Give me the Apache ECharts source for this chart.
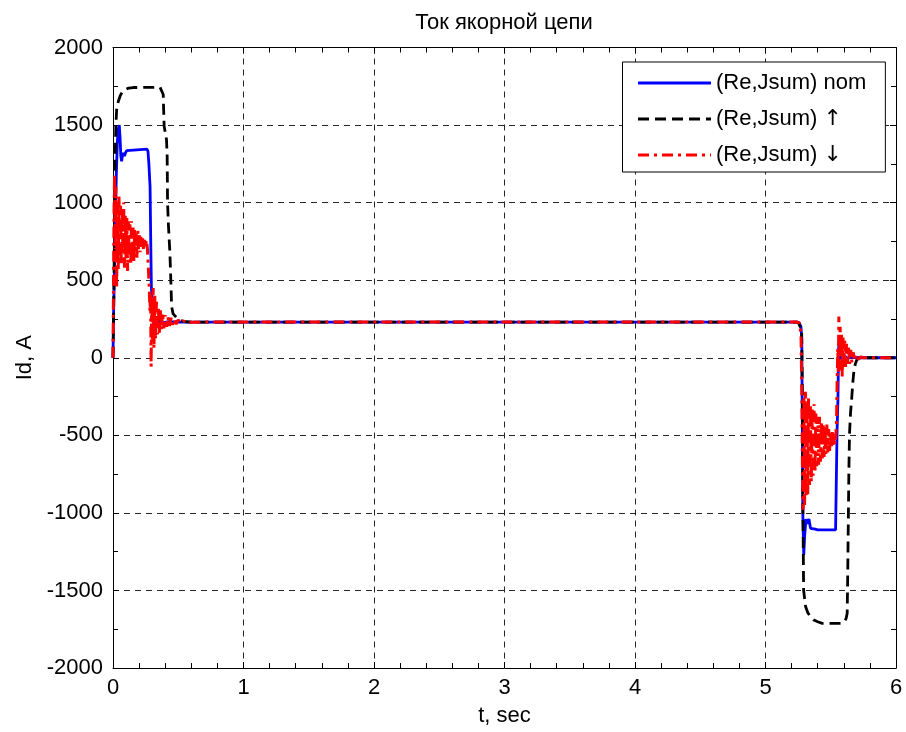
<!DOCTYPE html>
<html>
<head>
<meta charset="utf-8">
<script src="https://cdn.jsdelivr.net/npm/echarts@6/dist/echarts.min.js"></script>
<style>
html,body{margin:0;padding:0;background:#fff;}
#chart{width:906px;height:732px;}
</style>
</head>
<body>
<div id="chart"></div>
<script>
// ---- data ----
const seriesNames = ['(Re,Jsum) nom', '(Re,Jsum) \u2191', '(Re,Jsum) \u2193'];

const nomT = [0, 0.004, 0.01, 0.018, 0.026, 0.034, 0.042, 0.048, 0.054, 0.06, 0.066, 0.072, 0.08, 0.088, 0.095, 0.105, 0.115, 0.26, 0.268, 0.275, 0.281, 0.284, 0.287, 0.29, 0.294, 0.298, 0.303, 0.31, 0.318, 0.328, 0.34, 0.355, 0.38, 0.42, 0.5,
  5.24, 5.258, 5.272, 5.278, 5.282, 5.286, 5.29, 5.293, 5.3, 5.31, 5.32, 5.333, 5.345, 5.36, 5.38, 5.4, 5.537, 5.542, 5.548, 5.555, 5.56, 5.566, 5.572, 5.578, 5.585, 5.595, 5.61, 5.63, 5.66, 5.7, 6];
const nomI = [0, 270, 500, 900, 1200, 1400, 1480, 1500, 1420, 1300, 1266, 1300, 1320, 1300, 1320, 1335, 1340, 1345, 1330, 1250, 1150, 1105, 900, 700, 460, 380, 300, 250, 200, 260, 210, 245, 225, 232, 230,
  230, 225, 200, 120, -400, -1000, -1150, -1271, -1150, -1040, -1070, -1040, -1100, -1090, -1105, -1110, -1110, -830, -486, -271, 52, 127, -13, 60, 20, -20, 10, -5, 5, 0, 0];

const upT = [0, 0.005, 0.01, 0.015, 0.022, 0.028, 0.04, 0.054, 0.07, 0.09, 0.12, 0.155, 0.36, 0.375, 0.385, 0.388, 0.392, 0.41, 0.415, 0.418, 0.425, 0.436, 0.445, 0.449, 0.46, 0.487, 0.52, 0.56, 0.6,
  5.25, 5.265, 5.277, 5.282, 5.287, 5.292, 5.307, 5.325, 5.345, 5.37, 5.4, 5.435, 5.588, 5.605, 5.618, 5.626, 5.63, 5.633, 5.639, 5.644, 5.652, 5.66, 5.668, 5.677, 5.688, 5.7, 5.72, 6];
const upI = [0, 300, 700, 1200, 1500, 1600, 1650, 1686, 1712, 1728, 1738, 1742, 1744, 1735, 1697, 1600, 1492, 1406, 1300, 1000, 850, 677, 450, 331, 285, 258, 240, 232, 230,
  230, 225, 180, -200, -1000, -1497, -1604, -1645, -1669, -1690, -1702, -1712, -1712, -1700, -1680, -1647, -1400, -1174, -723, -486, -350, -271, -170, -88, -40, -13, 0, 0];

const downT = [0, 0.004, 0.008, 0.012, 0.017, 0.022, 0.028, 0.034, 0.04, 0.046, 0.052, 0.058, 0.064, 0.07, 0.076, 0.082, 0.088, 0.094, 0.1, 0.106, 0.112, 0.118, 0.124, 0.13, 0.136, 0.142, 0.148, 0.154, 0.16, 0.166, 0.172, 0.178, 0.184, 0.19, 0.196, 0.202, 0.208, 0.214, 0.22, 0.227, 0.234, 0.241, 0.248, 0.256, 0.264, 0.272, 0.278, 0.283, 0.288, 0.292, 0.297, 0.302, 0.308, 0.314, 0.32, 0.326, 0.333, 0.34, 0.347, 0.355, 0.363, 0.371, 0.38, 0.39, 0.4, 0.41, 0.42, 0.432, 0.444, 0.456, 0.47, 0.485, 0.5, 0.52, 0.54, 0.56, 0.58, 0.6, 0.63, 0.66, 0.7,
  5.24, 5.26, 5.272, 5.278, 5.283, 5.288, 5.294, 5.3, 5.306, 5.312, 5.318, 5.324, 5.33, 5.337, 5.344, 5.351, 5.358, 5.365, 5.372, 5.379, 5.386, 5.393, 5.4, 5.407, 5.414, 5.421, 5.428, 5.435, 5.442, 5.449, 5.456, 5.463, 5.47, 5.477, 5.484, 5.491, 5.498, 5.505, 5.512, 5.519, 5.526, 5.533, 5.539, 5.544, 5.549, 5.554, 5.558, 5.562, 5.567, 5.572, 5.577, 5.582, 5.588, 5.594, 5.6, 5.607, 5.614, 5.621, 5.628, 5.636, 5.644, 5.653, 5.662, 5.672, 5.683, 5.695, 5.71, 5.73, 5.75, 6];
const downI = [0, 500, 950, 1180, 700, 1100, 450, 1000, 560, 1040, 620, 980, 600, 960, 680, 1000, 580, 920, 640, 900, 560, 880, 650, 860, 600, 880, 680, 840, 620, 830, 690, 800, 640, 820, 700, 790, 680, 780, 700, 770, 690, 760, 720, 760, 700, 560, 450, 300, 420, -56, 380, 120, 450, 60, 400, 120, 360, 150, 330, 160, 310, 180, 290, 190, 275, 200, 265, 205, 258, 212, 250, 216, 244, 222, 238, 225, 234, 228, 231, 229, 230,
  230, 225, 150, -206, -700, -980, -250, -950, -220, -900, -280, -880, -250, -820, -300, -800, -320, -760, -300, -740, -360, -700, -380, -690, -380, -670, -410, -650, -420, -640, -440, -620, -430, -610, -460, -600, -470, -580, -480, -570, -490, -560, -500, -420, -150, 60, -100, 266, 0, 200, -80, 160, -120, 130, -60, 110, -60, 90, -40, 70, -40, 50, -30, 35, -20, 20, -10, 5, 0, 0];

const xMin = 0, xMax = 6, xStep = 1;
const yMin = -2000, yMax = 2000, yStep = 500;

// ---- build ----
function zip(t, v) { return t.map((x, i) => [x, v[i]]); }

const FONT = '"Liberation Sans", Arial, sans-serif';
const chart = echarts.init(document.getElementById('chart'), null, { renderer: 'canvas' });

const tickStyle = { show: true, inside: true, length: 6, lineStyle: { color: '#000', width: 1 } };
const minorStyle = (n) => ({ show: true, splitNumber: n, length: 5, lineStyle: { color: '#000', width: 1 } });
const gridLine = { show: true, lineStyle: { color: '#000', width: 1, type: [6, 5], opacity: 0.85 } };
const plain = (v) => String(v);

chart.setOption({
  animation: false,
  backgroundColor: '#fff',
  graphic: [{
    type: 'text', x: 504, y: 12, z: 10,
    style: { text: 'Ток якорной цепи', font: '22px ' + FONT, fill: '#000', textAlign: 'center', textVerticalAlign: 'top' }
  }],
  grid: { left: 113, right: 10, top: 47.5, bottom: 64, containLabel: false },
  legend: {
    orient: 'vertical', left: 622.5, top: 62,
    itemWidth: 73, itemHeight: 14, itemGap: 10,
    padding: [8, 19, 4, 14],
    backgroundColor: '#fff', borderColor: '#000', borderWidth: 1, borderRadius: 0,
    itemStyle: { color: 'rgba(0,0,0,0)', borderWidth: 0, opacity: 0 },
    lineStyle: { width: 3 },
    textStyle: {
      fontFamily: FONT, fontSize: 22, color: '#000', lineHeight: 26,
      rich: {
        a: { fontFamily: FONT, fontSize: 22, color: '#000', lineHeight: 26 },
        b: { fontFamily: '"DejaVu Sans", sans-serif', fontSize: 22, color: '#000', lineHeight: 26 }
      }
    },
    formatter: (name) => {
      const last = name.slice(-1);
      if (last === '\u2191' || last === '\u2193') return '{a|' + name.slice(0, -1) + '}{b|' + last + '}';
      return '{a|' + name + '}';
    },
    data: seriesNames,
    selectedMode: false
  },
  xAxis: [{
    type: 'value', min: xMin, max: xMax, interval: xStep, position: 'bottom',
    name: 't, sec', nameLocation: 'middle', nameGap: 37,
    nameTextStyle: { fontFamily: FONT, fontSize: 22, color: '#000' },
    axisLine: { show: true, onZero: false, lineStyle: { color: '#000', width: 1 } },
    axisTick: tickStyle, minorTick: minorStyle(5),
    axisLabel: { fontFamily: FONT, fontSize: 22, color: '#000', margin: 9, formatter: plain },
    splitLine: gridLine
  }, {
    type: 'value', min: xMin, max: xMax, interval: xStep, position: 'top',
    axisLine: { show: true, onZero: false, lineStyle: { color: '#000', width: 1 } },
    axisTick: tickStyle, minorTick: minorStyle(5),
    axisLabel: { show: false }, splitLine: { show: false }
  }],
  yAxis: [{
    type: 'value', min: yMin, max: yMax, interval: yStep, position: 'left',
    name: 'Id, A', nameLocation: 'middle', nameGap: 77,
    nameTextStyle: { fontFamily: FONT, fontSize: 22, color: '#000' },
    axisLine: { show: true, onZero: false, lineStyle: { color: '#000', width: 1 } },
    axisTick: tickStyle, minorTick: minorStyle(2),
    axisLabel: { fontFamily: FONT, fontSize: 22, color: '#000', margin: 10, formatter: plain },
    splitLine: gridLine
  }, {
    type: 'value', min: yMin, max: yMax, interval: yStep, position: 'right',
    axisLine: { show: true, onZero: false, lineStyle: { color: '#000', width: 1 } },
    axisTick: tickStyle, minorTick: minorStyle(2),
    axisLabel: { show: false }, splitLine: { show: false }
  }],
  series: [{
    name: seriesNames[0], type: 'line', data: zip(nomT, nomI),
    showSymbol: false, symbol: 'none', color: '#0000ff',
    lineStyle: { color: '#0000ff', width: 2.8, type: 'solid' }, z: 3
  }, {
    name: seriesNames[1], type: 'line', data: zip(upT, upI),
    showSymbol: false, symbol: 'none', color: '#000000',
    lineStyle: { color: '#000000', width: 2.8, type: [11, 6] }, z: 4
  }, {
    name: seriesNames[2], type: 'line', data: zip(downT, downI),
    showSymbol: false, symbol: 'none', color: '#ff0000',
    lineStyle: { color: '#ff0000', width: 3, type: [11, 5, 3, 5] }, z: 5
  }]
});
</script>
</body>
</html>
